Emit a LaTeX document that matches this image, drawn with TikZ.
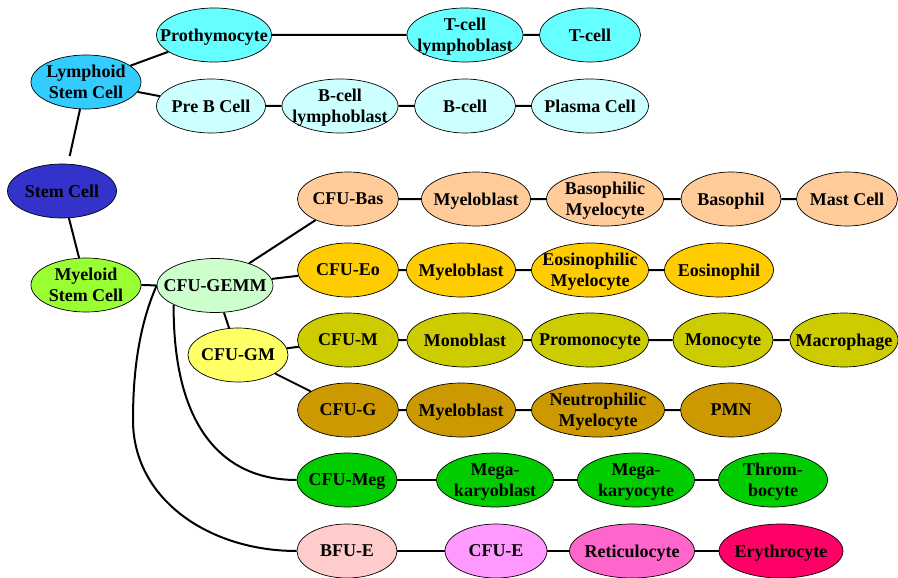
\documentclass[tikz,border=0pt]{standalone}
\usepackage{fontspec}
\setmainfont{Liberation Serif}
\usepackage{tikz}
\usetikzlibrary{
  shapes.geometric,
  positioning
}
\definecolor{hmStem}{HTML}{3333CC}
\definecolor{hmLymph}{HTML}{33CCFF}
\definecolor{hmTLine}{HTML}{66FFFF}
\definecolor{hmBLine}{HTML}{CCFFFF}
\definecolor{hmMyelo}{HTML}{99FF33}
\definecolor{hmGEMM}{HTML}{CCFFCC}
\definecolor{hmGM}{HTML}{FFFF66}
\definecolor{hmBas}{HTML}{FFCC99}
\definecolor{hmEo}{HTML}{FFCC00}
\definecolor{hmMono}{HTML}{CCCC00}
\definecolor{hmGran}{HTML}{CC9900}
\definecolor{hmMeg}{HTML}{00CC00}
\definecolor{hmBFU}{HTML}{FFCCCC}
\definecolor{hmCFUE}{HTML}{FF99FF}
\definecolor{hmRetic}{HTML}{FF66CC}
\definecolor{hmEry}{HTML}{FF0066}
\tikzset{
  cell/.style={
    draw, ellipse, line width=0.7pt, inner xsep=-40pt, inner ysep=-30pt,
    minimum width=#1, minimum height=54pt, align=center, text depth=0pt,
    font=\bfseries\fontsize{18}{21}\selectfont
  },
  cell/.default=101pt,
  link/.style={line width=2pt, black}
}

\begin{document}
\begin{tikzpicture}[x=1pt, y=1pt]
  \useasboundingbox (0,0) rectangle (898,-578);

  % stem and lymphoid line
  \node[cell=109pt, fill=hmStem] (sc) at (62,-191) {Stem Cell};
  \node[cell=110pt, fill=hmLymph] (lsc) at (86,-82) {Lymphoid\\Stem Cell};
  \node[cell=115pt, fill=hmTLine] (proth) at (214,-35) {Prothymocyte};
  \node[cell=116pt, fill=hmTLine] (tblast) at (465,-35) {T-cell\\lymphoblast};
  \node[cell, fill=hmTLine] (tcell) at (590,-35) {T-cell};
  \node[cell=109pt, fill=hmBLine] (preb) at (211,-106) {Pre B Cell};
  \node[cell=116pt, fill=hmBLine] (bblast) at (340,-106) {B-cell\\lymphoblast};
  \node[cell, fill=hmBLine] (bcell) at (465,-106) {B-cell};
  \node[cell=117pt, fill=hmBLine] (plasma) at (590,-106) {Plasma Cell};

  % myeloid line
  \node[cell=110pt, fill=hmMyelo] (msc) at (86,-285) {Myeloid\\Stem Cell};
  \node[cell=116pt, fill=hmGEMM] (gemm) at (215,-285.5) {CFU-GEMM};
  \node[cell=100pt, fill=hmGM] (gm) at (238,-355) {CFU-GM};

  \node[cell, fill=hmBas] (cbas) at (348,-199) {CFU-Bas};
  \node[cell=109pt, fill=hmBas] (bmyb) at (476,-199) {Myeloblast};
  \node[cell=117pt, fill=hmBas] (bmyc) at (605,-199) {Basophilic\\Myelocyte};
  \node[cell=100pt, fill=hmBas] (baso) at (731,-199) {Basophil};
  \node[cell, fill=hmBas] (mast) at (847,-199) {Mast Cell};

  \node[cell, fill=hmEo] (ceo) at (348,-270) {CFU-Eo};
  \node[cell=109pt, fill=hmEo] (emyb) at (461,-270) {Myeloblast};
  \node[cell=117pt, fill=hmEo] (emyc) at (590,-270) {Eosinophilic\\Myelocyte};
  \node[cell=109pt, fill=hmEo] (eos) at (719,-270) {Eosinophil};

  \node[cell, fill=hmMono] (cm) at (348,-340) {CFU-M};
  \node[cell=116pt, fill=hmMono] (monob) at (465,-340) {Monoblast};
  \node[cell=117pt, fill=hmMono] (promo) at (590,-340) {Promonocyte};
  \node[cell=100pt, fill=hmMono] (mono) at (723,-340) {Monocyte};
  \node[cell=108pt, fill=hmMono] (macro) at (844,-340) {Macrophage};

  \node[cell, fill=hmGran] (cg) at (348,-410) {CFU-G};
  \node[cell=109pt, fill=hmGran] (nmyb) at (461,-410) {Myeloblast};
  \node[cell=133pt, fill=hmGran] (nmyc) at (598,-410) {Neutrophilic\\Myelocyte};
  \node[cell, fill=hmGran] (pmn) at (731,-410) {PMN};

  \node[cell=100pt, fill=hmMeg] (cmeg) at (347,-480) {CFU-Meg};
  \node[cell=117pt, fill=hmMeg] (mgb) at (495,-480) {Mega-\\karyoblast};
  \node[cell=117pt, fill=hmMeg] (mgc) at (636,-480) {Mega-\\karyocyte};
  \node[cell=109pt, fill=hmMeg] (thr) at (773,-480) {Throm-\\bocyte};

  \node[cell=100pt, fill=hmBFU] (bfue) at (347,-551) {BFU-E};
  \node[cell=102pt, fill=hmCFUE] (cfue) at (496,-551) {CFU-E};
  \node[cell=125pt, fill=hmRetic] (retic) at (632,-551) {Reticulocyte};
  \node[cell=124pt, fill=hmEry] (ery) at (781,-551) {Erythrocyte};

  \draw[link, shorten <=8pt] (sc) -- (lsc);
  \draw[link] (sc) -- (msc);
  \draw[link] (lsc) -- (proth) -- (tblast) -- (tcell);
  \draw[link] (lsc) -- (preb) -- (bblast) -- (bcell) -- (plasma);
  \draw[link] (msc) -- (gemm);
  \draw[link] (gemm) -- (cbas) -- (bmyb) -- (bmyc) -- (baso) -- (mast);
  \draw[link] (gemm) -- (ceo) -- (emyb) -- (emyc) -- (eos);
  \draw[link] (gemm) -- (gm);
  \draw[link] (gm) -- (cm) -- (monob) -- (promo) -- (mono) -- (macro);
  \draw[link] (gm) -- (cg) -- (nmyb) -- (nmyc) -- (pmn);
  \draw[link] (cmeg) -- (mgb) -- (mgc) -- (thr);
  \draw[link] (bfue) -- (cfue) -- (retic) -- (ery);
  \draw[link] (gemm.205) .. controls (173,-430) and (225,-480) .. (cmeg.west);
  \draw[link] (gemm.west) .. controls (137,-330) and (133,-380) .. (133,-420)
    .. controls (133,-500) and (210,-551) .. (bfue.west);
\end{tikzpicture}
\end{document}
